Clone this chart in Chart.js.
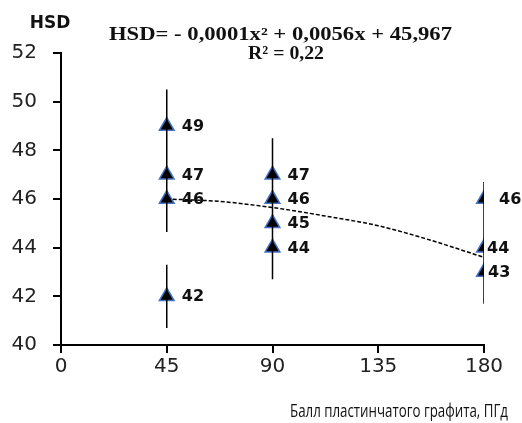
<!DOCTYPE html>
<html>
<head>
<meta charset="utf-8">
<script src="https://cdn.jsdelivr.net/npm/chart.js@4/dist/chart.umd.min.js"></script>
<style>
  html, body { margin: 0; padding: 0; background: #fff; }
  canvas { display: block; }
</style>
</head>
<body>
<canvas id="c" width="522" height="423"></canvas>
<script>
// ---- data ----
const xValues   = [45, 45, 45, 45, 90, 90, 90, 90, 180, 180, 180];
const hsdValues = [49, 47, 46, 42, 47, 46, 45, 44, 46, 44, 43];
const errValues = [1.5, 1.4, 1.36, 1.3, 1.5, 1.3, 1.3, 1.3, 0.7, 1.3, 1.3];
const trendX    = [45, 67.5, 90, 112.5, 135, 157.5, 180];
const trendY    = [46.0, 45.9, 45.65, 45.3, 44.9, 44.3, 43.6];
const xTicks    = [0, 45, 90, 135, 180];
const yTicks    = [40, 42, 44, 46, 48, 50, 52];
const yTitle    = 'HSD';
const xTitle    = 'Балл пластинчатого графита, ПГд';
const equation  = 'HSD= - 0,0001x² + 0,0056x + 45,967';
const r2Text    = 'R² = 0,22';

// ---- derived datasets ----
const points = xValues.map((x, i) => ({ x: x, y: hsdValues[i] }));
const errSegments = [];
xValues.forEach((x, i) => {
  errSegments.push({ x: x, y: hsdValues[i] - errValues[i] });
  errSegments.push({ x: x, y: hsdValues[i] + errValues[i] });
  errSegments.push({ x: x, y: null });
});
const trendPts = trendX.map((x, i) => ({ x: x, y: trendY[i] }));

const labelPlugin = {
  id: 'pointLabels',
  afterDatasetsDraw(chart, args, opts) {
    const meta = chart.getDatasetMeta(2);
    const ctx = chart.ctx;
    ctx.save();
    ctx.font = 'bold 16px "DejaVu Sans"';
    ctx.fillStyle = '#111';
    ctx.textBaseline = 'middle';
    ctx.textAlign = 'left';
    meta.data.forEach((el, i) => {
      const dx = (opts.shift && opts.shift[i] !== undefined) ? opts.shift[i] : 15;
      ctx.fillText(String(hsdValues[i]), el.x + dx, el.y + 1);
    });
    ctx.restore();
  }
};

function fitText(ctx, text, cx, y, width, align) {
  const w = ctx.measureText(text).width;
  const s = width / w;
  ctx.save();
  ctx.translate(cx, y);
  ctx.scale(s, 1);
  ctx.textAlign = align;
  ctx.fillText(text, 0, 0);
  ctx.restore();
}

const textPlugin = {
  id: 'texts',
  afterDraw(chart) {
    const ctx = chart.ctx;
    ctx.save();
    ctx.fillStyle = '#111';
    ctx.textBaseline = 'alphabetic';
    // y-axis title
    ctx.font = 'bold 17px "DejaVu Sans"';
    ctx.textAlign = 'center';
    ctx.fillText(yTitle, 50, 28);
    // equation
    ctx.font = 'bold 18px "Liberation Serif"';
    fitText(ctx, equation, 280.5, 40, 343, 'center');
    ctx.font = 'bold 19px "Liberation Serif"';
    fitText(ctx, r2Text, 286, 59, 76, 'center');
    // x-axis title
    ctx.font = '19px "Liberation Sans Narrow", "Open Sans"';
    fitText(ctx, xTitle, 508, 417, 218, 'right');
    ctx.restore();
  }
};

new Chart(document.getElementById('c'), {
  type: 'scatter',
  data: {
    datasets: [
      {
        label: 'err',
        data: errSegments,
        showLine: true,
        spanGaps: false,
        borderColor: '#000',
        borderWidth: 1.5,
        pointRadius: 0,
        pointHoverRadius: 0
      },
      {
        label: 'trend',
        data: trendPts,
        showLine: true,
        borderColor: '#000',
        borderWidth: 1.5,
        borderDash: [4, 2],
        cubicInterpolationMode: 'monotone',
        pointRadius: 0,
        pointHoverRadius: 0
      },
      {
        label: 'HSD',
        data: points,
        pointStyle: 'triangle',
        pointRadius: 8.5,
        backgroundColor: '#000',
        borderColor: '#4472C4',
        borderWidth: 1.5
      }
    ]
  },
  options: {
    responsive: false,
    animation: false,
    events: [],
    layout: { padding: { left: 12, right: 38, top: 53, bottom: 42 } },
    plugins: {
      legend: { display: false },
      tooltip: { enabled: false },
      pointLabels: { shift: { 9: 3, 10: 4 } }
    },
    scales: {
      x: {
        type: 'linear',
        min: 0, max: 180,
        afterBuildTicks: (axis) => { axis.ticks = xTicks.map(v => ({ value: v })); },
        ticks: {
          font: { family: 'DejaVu Sans', size: 20 },
          color: '#222',
          padding: 2,
          maxRotation: 0
        },
        grid: { drawOnChartArea: false, drawTicks: true, tickLength: 8, color: '#000', lineWidth: 2 },
        border: { display: true, color: '#000', width: 2 }
      },
      y: {
        type: 'linear',
        min: 40, max: 52,
        afterBuildTicks: (axis) => { axis.ticks = yTicks.map(v => ({ value: v })); },
        afterFit: (axis) => { axis.width = 49; },
        ticks: {
          font: { family: 'DejaVu Sans', size: 20 },
          color: '#222',
          padding: 16
        },
        grid: { drawOnChartArea: false, drawTicks: true, tickLength: 8, color: '#000', lineWidth: 2 },
        border: { display: true, color: '#000', width: 2 }
      }
    }
  },
  plugins: [labelPlugin, textPlugin]
});
</script>
</body>
</html>
